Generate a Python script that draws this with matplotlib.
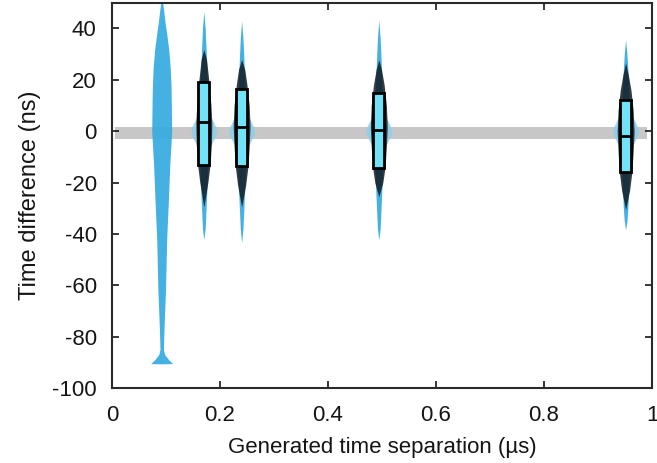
import numpy as np
import matplotlib
matplotlib.use('Agg')
import matplotlib.pyplot as plt

plt.rcParams['font.family'] = ['Liberation Sans', 'DejaVu Sans']
plt.rcParams['axes.unicode_minus'] = False

# ---------- data ----------
positions = [0.092, 0.170, 0.240, 0.494, 0.951]   # generated separation (us)

# violin outlines: y level (ns) and relative density (1.0 = widest)
v1_y = [52, 47, 42, 38, 32, 25, 18, 12, 0, -14, -27, -42, -52, -62, -70, -77, -85,
        -87, -89, -90.5, -90.6]
v1_d = [0.02, 0.2, 0.35, 0.5, 0.7, 0.85, 0.93, 0.96, 1.0, 0.8, 0.67, 0.5, 0.44, 0.38,
        0.3, 0.23, 0.17, 0.3, 0.7, 1.1, 0.0]

v2_y = [46.6, 40, 32, 20, 8, 3, 0, -3, -8, -20, -30, -38, -42.3]
v2_d = [0.0, 0.12, 0.2, 0.3, 0.4, 0.45, 0.5, 0.45, 0.4, 0.3, 0.2, 0.12, 0.0]
v3_y = [43.0, 36, 28, 18, 8, 2, 0, -3, -8, -20, -30, -38, -43.5]
v3_d = [0.0, 0.12, 0.2, 0.3, 0.4, 0.45, 0.5, 0.45, 0.4, 0.3, 0.2, 0.12, 0.0]
v4_y = [43.4, 36, 28, 18, 8, 2, 0, -3, -8, -20, -30, -38, -42.3]
v4_d = [0.0, 0.12, 0.2, 0.3, 0.4, 0.45, 0.5, 0.45, 0.4, 0.3, 0.2, 0.12, 0.0]
v5_y = [35.6, 30, 24, 15, 6, 1, -1, -4, -9, -20, -30, -35, -38.4]
v5_d = [0.0, 0.12, 0.2, 0.3, 0.4, 0.45, 0.5, 0.45, 0.4, 0.3, 0.2, 0.12, 0.0]

# pale halo of the violins where they cross the grey band
halo_y = [9, 5, 2, 0, -2, -5, -9]
halo_d = [0.0, 0.6, 0.9, 1.0, 0.9, 0.6, 0.0]

# dense cloud of individual points (dark) behind the boxes
c2_y = [31.8, 28, 20, 10, 3, -5, -13, -20, -29.5]
c2_d = [0.0, 0.3, 0.55, 0.8, 0.9, 0.85, 0.7, 0.45, 0.0]
c3_y = [27.9, 24, 18, 10, 2, -6, -14, -21, -29.5]
c3_d = [0.0, 0.35, 0.6, 0.85, 0.95, 0.85, 0.7, 0.45, 0.0]
c4_y = [27.8, 24, 18, 10, 2, -6, -14, -20, -25.5]
c4_d = [0.0, 0.3, 0.6, 0.85, 0.95, 0.85, 0.7, 0.45, 0.0]
c5_y = [26.6, 22, 16, 8, 0, -8, -16, -23, -30.6]
c5_d = [0.0, 0.3, 0.6, 0.85, 0.95, 0.85, 0.7, 0.45, 0.0]

# boxes: lower quartile, median, upper quartile (ns)
q1 = [-13.0, -13.5, -14.5, -16.0]
med = [3.5, 1.5, 0.5, -2.0]
q3 = [19.0, 16.5, 15.0, 12.0]

band_lo, band_hi = -3.2, 1.8   # grey reference band (ns)

xticks = [0, 0.2, 0.4, 0.6, 0.8, 1]
xticklabels = ['0', '0.2', '0.4', '0.6', '0.8', '1']
yticks = [-100, -80, -60, -40, -20, 0, 20, 40]

# ---------- plot ----------
BLUE = '#35abe0'
PALE = '#86cfee'
CYAN = '#72e2f6'
DARK = '#121a22'
TXT = '#151515'
V1_W = 0.0185
V_W = 0.021
H_W = 0.024
C_W = 0.0165
BOX_W = 0.021

fig = plt.figure(figsize=(6.57, 4.63), dpi=100)
ax = fig.add_axes([0.1705, 0.162, 0.822, 0.832])

ax.fill_between([0.005, 0.99], band_lo, band_hi, color='#bdbdbd', alpha=0.85,
                linewidth=0, zorder=1)

for x0 in positions[1:]:
    hd = np.array(halo_d) * H_W
    ax.fill_betweenx(halo_y, x0 - hd, x0 + hd, color=PALE, alpha=0.8,
                     linewidth=0, zorder=2)

violins = [(v1_y, v1_d, V1_W), (v2_y, v2_d, V_W), (v3_y, v3_d, V_W),
           (v4_y, v4_d, V_W), (v5_y, v5_d, V_W)]
for x0, (vy, vd, w) in zip(positions, violins):
    vy = np.array(vy)
    vd = np.array(vd) * w
    ax.fill_betweenx(vy, x0 - vd, x0 + vd, color=BLUE, alpha=0.92,
                     linewidth=0, zorder=2)

clouds = [(c2_y, c2_d), (c3_y, c3_d), (c4_y, c4_d), (c5_y, c5_d)]
for x0, (cy, cd) in zip(positions[1:], clouds):
    cy = np.array(cy)
    cd = np.array(cd) * C_W
    ax.fill_betweenx(cy, x0 - cd, x0 + cd, color=DARK, alpha=0.85,
                     linewidth=0, zorder=3)

for x0, lo, m, hi in zip(positions[1:], q1, med, q3):
    ax.add_patch(plt.Rectangle((x0 - BOX_W / 2, lo), BOX_W, hi - lo,
                               facecolor=CYAN, edgecolor='black', linewidth=2,
                               zorder=4))
    ax.plot([x0 - BOX_W / 2, x0 + BOX_W / 2], [m, m], color='black',
            linewidth=2, zorder=5, solid_capstyle='butt')

ax.set_xlim(0, 1)
ax.set_ylim(-100, 50)
ax.set_xticks(xticks)
ax.set_xticklabels(xticklabels)
ax.set_yticks(yticks)
ax.tick_params(direction='in', length=5, width=1.2, top=True, right=True,
               labelsize=16, colors=TXT)
ax.tick_params(axis='x', pad=12)
ax.tick_params(axis='y', pad=11)
for s in ax.spines.values():
    s.set_color('#2a2a2a')
    s.set_linewidth(1.5)

ax.set_xlabel('Generated time separation (µs)', fontsize=16, color=TXT, labelpad=8)
ax.set_ylabel('Time difference (ns)', fontsize=17, color=TXT, labelpad=8)

fig.savefig('out.png', dpi=100)
